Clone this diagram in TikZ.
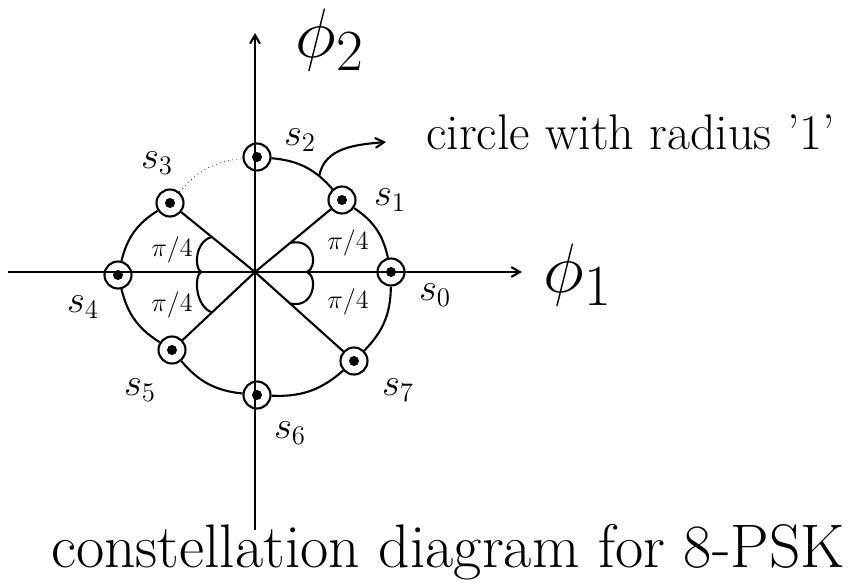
\documentclass[tikz,border=0pt]{standalone}
\usepackage{amsmath,amssymb}
\usepackage{fontspec}
\usetikzlibrary{arrows,calc}
\newcommand{\qpi}{$\pi/4$}

\begin{document}
\begin{tikzpicture}[
  sym/.style={circle,draw,very thick,minimum size=0.54cm,inner sep=0pt,
              path picture={\fill (path picture bounding box.center) circle (0.1);}},
  lbl/.style={font=\huge,scale=1.06},
  angl/.style={font=\Large,scale=1.04},
  axlbl/.style={font=\Huge,scale=1.6},
  arrow/.style={->,>=angle 60,very thick}
]
\useasboundingbox (-5.10,-6.22) rectangle (12.10,5.44);

% axes
\coordinate (o)  at (0,0);
\coordinate (xl) at (-4.94,0);
\coordinate (xr) at ( 5.34,0);
\coordinate (yb) at (0,-5.16);
\coordinate (yt) at (0, 4.78);
\draw[arrow] (xl) -- (xr);
\draw[arrow] (yb) -- (yt);
\node[axlbl] (phi2) at (1.50,4.64) {$\phi_2$};
\node[axlbl] (phi1) at (6.46,-0.06) {$\phi_1$};

% signal points
\node[sym] (s0) at ( 2.72, 0.00) {};
\node[sym] (s1) at ( 1.74, 1.44) {};
\node[sym] (s2) at ( 0.04, 2.30) {};
\node[sym] (s3) at (-1.70, 1.38) {};
\node[sym] (s4) at (-2.74,-0.06) {};
\node[sym] (s5) at (-1.66,-1.56) {};
\node[sym] (s6) at ( 0.04,-2.46) {};
\node[sym] (s7) at ( 1.98,-1.78) {};

\node[lbl] (l0) at ( 3.60,-0.46) {$s_0$};
\node[lbl] (l1) at ( 2.70, 1.44) {$s_1$};
\node[lbl] (l2) at ( 0.90, 2.64) {$s_2$};
\node[lbl] (l3) at (-1.96, 2.18) {$s_3$};
\node[lbl] (l4) at (-3.44,-0.70) {$s_4$};
\node[lbl] (l5) at (-2.30,-2.36) {$s_5$};
\node[lbl] (l6) at ( 0.70,-3.22) {$s_6$};
\node[lbl] (l7) at ( 2.86,-2.36) {$s_7$};

% the circle through the points
\draw[very thick] (s2) to[bend left=22] coordinate[pos=0.75] (cpt) (s1)
             (s1) to[bend left=22] (s0)
             (s0) to[bend left=22] (s7)
             (s7) to[bend left=22] (s6)
             (s6) to[bend left=22] (s5)
             (s5) to[bend left=22] (s4)
             (s4) to[bend left=22] (s3);
\draw[dotted] (s3) to[bend left=22] (s2);

\draw[very thick] (s3) -- (o) -- (s7);
\draw[very thick] (s1) -- (o) -- (s5);

% angle marks
\draw[very thick] (0.70,0.58) .. controls (1.20,0.70) and (1.26,0.08) .. (1.04,0)
             .. controls (1.26,-0.08) and (1.20,-0.74) .. (0.70,-0.63);
\draw[very thick] (-0.86,0.70) .. controls (-1.20,0.62) and (-1.22,0.08) .. (-1.08,0)
             .. controls (-1.22,-0.08) and (-1.20,-0.68) .. (-0.86,-0.81);
\node[angl] (a1) at ( 1.86, 0.58) {\qpi};
\node[angl] (a2) at ( 1.86,-0.60) {\qpi};
\node[angl] (a3) at (-1.66, 0.44) {\qpi};
\node[angl] (a4) at (-1.66,-0.66) {\qpi};

% note
\node[font=\fontsize{28.5}{34}\selectfont,anchor=base west] (note) at (3.30,2.44) {circle with radius '1'};
\coordinate (ctip) at (2.62,2.60);
\draw[arrow] (cpt) to[out=80,in=185] (ctip);

\node[font=\fontsize{35}{42}\selectfont,anchor=base] (title) at (3.86,-5.90) {constellation diagram for 8-PSK};
\end{tikzpicture}
\end{document}
